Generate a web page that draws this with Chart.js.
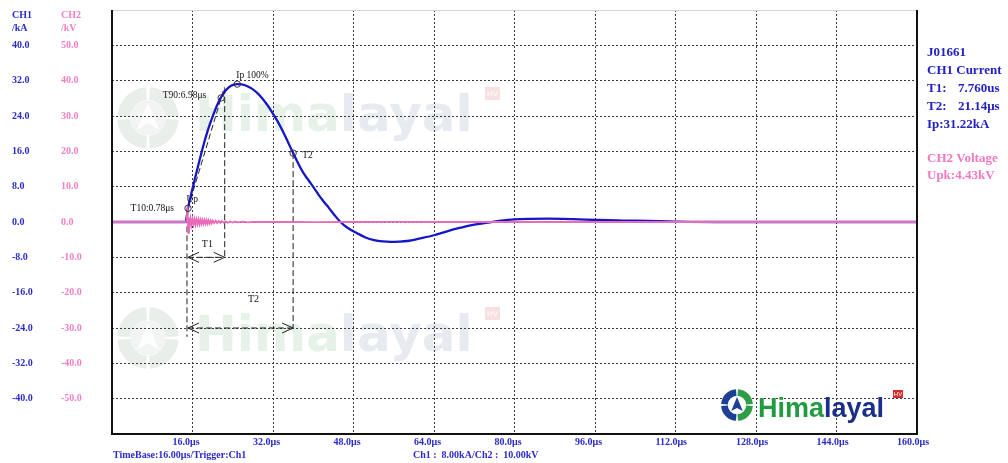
<!DOCTYPE html>
<html>
<head>
<meta charset="utf-8">
<title>Impulse Current Test</title>
<script src="https://cdn.jsdelivr.net/npm/chart.js"></script>
<style>
  body { margin: 0; background: #fff; }
  #wrap { width: 1008px; height: 463px; position: relative; }
</style>
</head>
<body>
<div id="wrap"><canvas id="chart"></canvas></div>
<script>
// CH1 current (kA) against time (us)
const ch1Time = [0, 14.6, 15.1, 15.8, 16.5, 17.4, 18.3, 19.2, 20.2, 21.2, 22.2, 23.2, 24.2, 24.9, 25.8, 26.8, 27.8,
  28.8, 29.8, 30.8, 31.8, 32.8, 33.8, 34.9, 36.0, 37.0, 38.1, 39.1, 40.1, 41.1, 42.1, 43.1, 44.2, 45.4, 46.8, 48.8,
  50.4, 52.1, 53.8, 55.4, 57.0, 58.7, 61.3, 64.0, 66.6, 69.3, 72.0, 74.7, 77.3, 80.0, 83.3, 86.6, 91.6, 96.6, 101.5,
  106.5, 112.0, 120.0, 160.0];
const ch1Current = [0, 0, 3.1, 6.6, 9.9, 14.0, 17.9, 21.3, 24.5, 27.2, 29.2, 30.5, 31.1, 31.22, 31.15, 30.8, 30.2,
  29.3, 28.1, 26.6, 24.9, 23.0, 20.9, 18.3, 15.6, 13.3, 11.0, 9.4, 7.8, 6.1, 4.6, 3.2, 1.6, 0.0, -1.3, -2.6,
  -3.5, -4.1, -4.4, -4.5, -4.45, -4.3, -3.7, -3.0, -2.1, -1.3, -0.6, -0.15, 0.3, 0.6, 0.72, 0.76, 0.65, 0.45, 0.33,
  0.23, 0.1, 0.0, 0.0];

// CH2 voltage (kV) against time (us)
const ch2Time = [0, 14.6, 14.85, 15.0, 15.15, 15.3, 15.45, 15.6, 15.8, 16.0, 16.2, 16.4, 16.6, 16.8, 17.0, 17.2, 17.4,
  17.6, 17.8, 18.0, 18.2, 18.4, 18.6, 18.8, 19.0, 19.2, 19.4, 19.6, 19.8, 20.0, 20.3, 20.6, 20.9, 21.2, 21.5, 21.8,
  22.2, 22.6, 23.0, 23.5, 24.0, 24.5, 25.0, 26.0, 27.0, 28.0, 30.0, 32.0, 36.0, 40.0, 48.0, 56.0, 64.0, 80.0, 96.0,
  112.0, 128.0, 144.0, 160.0];
const ch2Voltage = [0, 0, 0.5, 4.43, -3.1, 1.2, -0.9, 0.9, -0.8, 0.8, -0.7, 0.8, -0.7, 0.7, -0.6, 0.7, -0.6,
  0.6, -0.55, 0.6, -0.5, 0.55, -0.45, 0.5, -0.45, 0.45, -0.4, 0.4, -0.35, 0.4, -0.3, 0.35, -0.3, 0.3, -0.25, 0.25,
  -0.2, 0.2, -0.2, 0.15, -0.15, 0.12, -0.1, 0.1, -0.08, 0.06, 0, 0.05, 0, -0.05, 0, 0.05, 0, 0, 0,
  0, 0, 0, 0];

// tick labels
const timeTicks = [16, 32, 48, 64, 80, 96, 112, 128, 144, 160];
const ch1Ticks = [40, 32, 24, 16, 8, 0, -8, -16, -24, -32, -40];
const ch2Ticks = [50, 40, 30, 20, 10, 0, -10, -20, -30, -40, -50];

// measuring points on the CH1 curve
const markerText = ['T10:0.78μs', 'T90:6.98μs', 'Ip 100%', 'T2'];
const markerTime = [15.1, 21.7, 24.9, 36.0];
const markerCurrent = [3.1, 28.1, 31.22, 15.6];
const upkTime = 15.0;
const upkVoltage = 4.43;

// readout texts
const ch1Info = [['J01661'], ['CH1 Current'], ['T1:', '7.760us'], ['T2:', '21.14μs'], ['Ip:31.22kA']];
const ch2Info = ['CH2 Voltage', 'Upk:4.43kV'];
const footLeft = 'TimeBase:16.00μs/Trigger:Ch1';
const footRight = 'Ch1 :  8.00kA/Ch2 :  10.00kV';

const BLUE = '#2b2bc9';
const PINK = '#f07fc4';
const SERIF = '"Liberation Serif", "Times New Roman", serif';

function drawLogo(ctx, cx, cy, r, ring1, ring2, inner, arrow) {
  const q = Math.PI / 2;
  const cols = [ring2, ring1, ring1, ring2];
  ctx.save();
  ctx.lineWidth = r * 0.42;
  for (let i = 0; i < 4; i++) {
    ctx.strokeStyle = cols[i];
    ctx.beginPath();
    ctx.arc(cx, cy, r * 0.78, i * q + 0.06, (i + 1) * q - 0.06);
    ctx.stroke();
  }
  ctx.fillStyle = inner;
  ctx.beginPath();
  ctx.arc(cx, cy, r * 0.56, 0, Math.PI * 2);
  ctx.fill();
  ctx.fillStyle = arrow;
  ctx.beginPath();
  ctx.moveTo(cx, cy - r * 0.5);
  ctx.lineTo(cx + r * 0.36, cy + r * 0.38);
  ctx.lineTo(cx, cy + r * 0.18);
  ctx.lineTo(cx - r * 0.36, cy + r * 0.38);
  ctx.closePath();
  ctx.fill();
  ctx.restore();
}

function drawBrand(ctx, x, base, font, c1, c2) {
  ctx.save();
  ctx.font = font;
  ctx.textBaseline = 'alphabetic';
  ctx.textAlign = 'left';
  ctx.fillStyle = c1;
  ctx.fillText('Hima', x, base);
  const w = ctx.measureText('Hima').width;
  ctx.fillStyle = c2;
  ctx.fillText('layal', x + w, base);
  ctx.restore();
}

function hvBox(ctx, x, y, w, h, bg, size) {
  ctx.save();
  ctx.fillStyle = bg;
  ctx.fillRect(x, y, w, h);
  ctx.fillStyle = '#fff';
  ctx.font = size + 'px "Liberation Sans", sans-serif';
  ctx.textAlign = 'center';
  ctx.textBaseline = 'middle';
  ctx.fillText('HV', x + w / 2, y + h / 2 + 0.5);
  ctx.restore();
}

function dashed(ctx, x1, y1, x2, y2) {
  ctx.beginPath();
  ctx.moveTo(x1, y1);
  ctx.lineTo(x2, y2);
  ctx.stroke();
}

function arrowHead(ctx, x, y, dir) {
  ctx.save();
  ctx.setLineDash([]);
  ctx.beginPath();
  ctx.moveTo(x + dir * 11, y - 5);
  ctx.lineTo(x, y);
  ctx.lineTo(x + dir * 11, y + 5);
  ctx.stroke();
  ctx.restore();
}

const scopePlugin = {
  id: 'scope',
  beforeDraw(chart) {
    const ctx = chart.ctx;
    // faint watermarks
    [0, 220].forEach(dy => {
      drawLogo(ctx, 148, 118 + dy, 31, '#e8eee9', '#e8eee9', '#f1f4f2', '#fcfdfc');
      drawBrand(ctx, 195, 131 + dy, 'bold 50px "DejaVu Sans", sans-serif', '#e6f1e8', '#e8eaf2');
      hvBox(ctx, 485, 87 + dy, 15, 13, '#f8e0e0', 8);
    });
  },
  beforeDatasetsDraw(chart) {
    const ctx = chart.ctx;
    const x = chart.scales.x, y = chart.scales.y;
    // company logo
    drawLogo(ctx, 737, 405, 16, '#1d3f96', '#2f9c47', '#fff', '#1d3f96');
    drawBrand(ctx, 758, 417, 'bold 27px "Liberation Sans", sans-serif', '#229a3f', '#1c2f88');
    hvBox(ctx, 893, 390, 10, 8, '#d62b2b', 6);

    // measurement construction lines
    const t10 = markerTime[0], i10 = markerCurrent[0];
    const t90 = markerTime[1], i90 = markerCurrent[1];
    const t2 = markerTime[3], i2 = markerCurrent[3];
    const t1End = 22.4;
    const px = v => x.getPixelForValue(v), py = v => y.getPixelForValue(v);
    ctx.save();
    ctx.strokeStyle = '#222';
    ctx.lineWidth = 1;
    ctx.setLineDash([6, 3]);
    dashed(ctx, px(t10), py(i10), px(t10 + (t90 - t10) * 1.1), py(i10 + (i90 - i10) * 1.1));
    dashed(ctx, px(t10) - 1, py(i10), px(t10) - 1, py(-26));
    dashed(ctx, px(t1End), py(30.3), px(t1End), py(-8));
    dashed(ctx, px(t2), py(i2), px(t2), py(-24));
    dashed(ctx, px(t10), py(-8), px(t1End), py(-8));
    dashed(ctx, px(t10), py(-24), px(t2), py(-24));
    arrowHead(ctx, px(t10), py(-8), 1);
    arrowHead(ctx, px(t1End), py(-8), -1);
    arrowHead(ctx, px(t10), py(-24), 1);
    arrowHead(ctx, px(t2), py(-24), -1);
    ctx.fillStyle = '#111';
    ctx.font = '10px ' + SERIF;
    ctx.textAlign = 'center';
    ctx.textBaseline = 'middle';
    ctx.fillText('T1', (px(t10) + px(t1End)) / 2 + 1, py(-8) - 13);
    ctx.fillText('T2', (px(t10) + px(t2)) / 2 + 13, py(-24) - 29);
    ctx.restore();
  },
  afterDraw(chart) {
    const ctx = chart.ctx;
    const a = chart.chartArea;
    const x = chart.scales.x, y = chart.scales.y, y2 = chart.scales.y2;
    ctx.save();
    // frame
    ctx.strokeStyle = '#d6d6d6';
    ctx.lineWidth = 1;
    dashed(ctx, a.left, a.top + 0.5, a.right, a.top + 0.5);
    ctx.strokeStyle = '#111';
    ctx.lineWidth = 2;
    ctx.beginPath();
    ctx.moveTo(a.left, a.top);
    ctx.lineTo(a.left, a.bottom);
    ctx.lineTo(a.right, a.bottom);
    ctx.lineTo(a.right, a.top);
    ctx.stroke();

    // marker labels
    const offs = [[-14, 0, 'right'], [-15, -2, 'right'], [-1, -9, 'left'], [9, 2, 'left']];
    ctx.fillStyle = '#111';
    ctx.font = '9.5px ' + SERIF;
    ctx.textBaseline = 'middle';
    markerText.forEach((t, i) => {
      ctx.textAlign = offs[i][2];
      ctx.fillText(t, x.getPixelForValue(markerTime[i]) + offs[i][0], y.getPixelForValue(markerCurrent[i]) + offs[i][1]);
    });
    ctx.textAlign = 'left';
    ctx.fillText('Up', x.getPixelForValue(upkTime) - 1, y2.getPixelForValue(upkVoltage) - 7);

    // axis headers
    ctx.font = 'bold 10px ' + SERIF;
    ctx.fillStyle = BLUE;
    ctx.fillText('CH1', y.left, 15);
    ctx.fillText('/kA', y.left, 28);
    ctx.fillStyle = PINK;
    ctx.fillText('CH2', y2.left, 15);
    ctx.fillText('/kV', y2.left, 28);

    // readout
    const rx = a.right + 10;
    ctx.font = 'bold 13px ' + SERIF;
    ctx.fillStyle = '#2222c4';
    ch1Info.forEach((parts, i) => {
      ctx.fillText(parts[0], rx, 53 + i * 17.8);
      if (parts[1]) ctx.fillText(parts[1], rx + 31, 53 + i * 17.8);
    });
    ctx.fillStyle = '#f078c0';
    ch2Info.forEach((t, i) => ctx.fillText(t, rx, 159 + i * 17));

    // footer
    ctx.font = 'bold 10px ' + SERIF;
    ctx.fillStyle = BLUE;
    ctx.fillText(footLeft, a.left + 1, 455);
    ctx.fillText(footRight, 413, 455);
    ctx.restore();
  }
};

const tickFont = { family: SERIF, size: 10, weight: 'bold' };

new Chart(document.getElementById('chart'), {
  type: 'line',
  data: {
    datasets: [
      {
        label: 'CH2 Voltage',
        data: ch2Time.map((t, i) => ({ x: t, y: ch2Voltage[i] })),
        yAxisID: 'y2',
        borderColor: '#e96ab9',
        borderWidth: 1.8,
        pointRadius: 0,
        tension: 0,
        order: 1
      },
      {
        label: 'CH1 Current',
        data: ch1Time.map((t, i) => ({ x: t, y: ch1Current[i] })),
        yAxisID: 'y',
        borderColor: '#1616c6',
        borderWidth: 2.3,
        pointRadius: 0,
        cubicInterpolationMode: 'monotone',
        order: 2
      },
      {
        label: 'Markers',
        data: markerTime.map((t, i) => ({ x: t, y: markerCurrent[i] })),
        yAxisID: 'y',
        showLine: false,
        pointRadius: 3.2,
        pointBorderWidth: 1,
        pointBorderColor: '#333',
        pointBackgroundColor: 'rgba(0,0,0,0)',
        order: 0
      }
    ]
  },
  options: {
    responsive: true,
    maintainAspectRatio: false,
    animation: false,
    layout: { padding: { left: 12, right: 91, top: 10, bottom: 0 } },
    plugins: { legend: { display: false }, tooltip: { enabled: false } },
    scales: {
      x: {
        type: 'linear',
        min: 0,
        max: 160,
        afterBuildTicks: ax => { ax.ticks = timeTicks.map(v => ({ value: v })); },
        afterFit: ax => { ax.height = 29; },
        grid: { color: '#3a3a3a', lineWidth: 1, drawTicks: false },
        border: { display: false, dash: [2, 2] },
        ticks: {
          color: BLUE, font: tickFont, padding: 2, align: 'start', labelOffset: -20,
          maxRotation: 0, autoSkip: false,
          callback: v => v.toFixed(1) + 'μs'
        }
      },
      y: {
        position: 'left',
        weight: 2,
        min: -48,
        max: 48,
        afterBuildTicks: ax => { ax.ticks = ch1Ticks.map(v => ({ value: v })); },
        afterFit: ax => { ax.width = 49; },
        grid: { color: '#3a3a3a', lineWidth: 1, drawTicks: false },
        border: { display: false, dash: [2, 2] },
        ticks: { color: BLUE, font: tickFont, crossAlign: 'far', padding: 0, callback: v => v.toFixed(1) }
      },
      y2: {
        position: 'left',
        weight: 1,
        min: -60,
        max: 60,
        afterBuildTicks: ax => { ax.ticks = ch2Ticks.map(v => ({ value: v })); },
        afterFit: ax => { ax.width = 51; },
        grid: { display: false, drawTicks: false },
        border: { display: false },
        ticks: { color: PINK, font: tickFont, crossAlign: 'far', padding: 0, callback: v => v.toFixed(1) }
      }
    }
  },
  plugins: [scopePlugin]
});
</script>
</body>
</html>
